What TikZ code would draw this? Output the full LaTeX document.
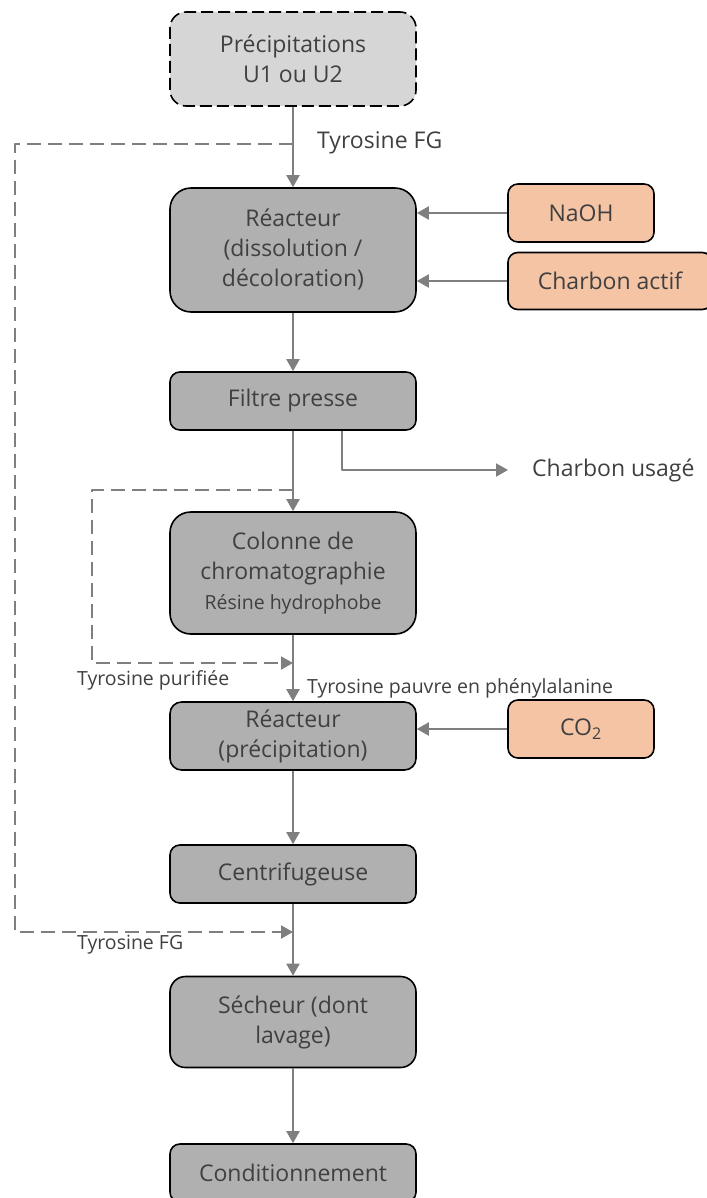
\documentclass[tikz,border=0pt]{standalone}
\usepackage{fontspec}
\setmainfont{Open Sans}
\usetikzlibrary{arrows.meta}
\definecolor{boxgray}{HTML}{B0B0B0}
\definecolor{topgray}{HTML}{D6D6D6}
\definecolor{feedorange}{HTML}{F5C4A5}
\definecolor{linegray}{HTML}{7F7F7F}
\definecolor{textgray}{HTML}{404040}
\begin{document}
\begin{tikzpicture}[x=1pt,y=-1pt,line join=round,>={Triangle[width=13pt,length=12pt]},font=\fontsize{23}{30}\selectfont]
\tikzset{proc/.style={draw=black,line width=1.6pt,fill=boxgray,text=textgray,align=center,minimum width=246pt,minimum height=#1pt,rounded corners=0.17*#1pt},
feed/.style={proc=#1,fill=feedorange,minimum width=146pt},
flow/.style={draw=linegray,line width=2pt,->},
recycle/.style={flow,dash pattern=on 14pt off 7pt},
lbl/.style={text=textgray,inner sep=0pt,anchor=west},
small/.style={font=\fontsize{19.5}{24}\selectfont}}
\useasboundingbox (0,0) rectangle (706,1198);
% main line
\node[proc=94,fill=topgray,dash pattern=on 12pt off 5pt] (src) at (293,59) {Précipitations\\U1 ou U2};
\node[proc=124] (r1) at (293,250) {Réacteur\\(dissolution /\\décoloration)};
\node[proc=58] (filt) at (293,401) {Filtre presse};
\node[proc=122] (col) at (293,573) {Colonne de\\chromatographie\\{\fontsize{19.5}{24}\selectfont Résine hydrophobe}};
\node[proc=68] (r2) at (293,736) {Réacteur\\(précipitation)};
\node[proc=58] (cent) at (293,874) {Centrifugeuse};
\node[proc=91] (sech) at (293,1022) {Sécheur (dont\\lavage)};
\node[proc=58] (cond) at (293,1173) {Conditionnement};
% reagents
\node[feed=58] (naoh) at (581,213) {NaOH};
\node[feed=57,minimum width=204pt] (charbon) at (610,281) {Charbon actif};
\node[feed=58] (co2) at (581,729) {CO\textsubscript{2}};
\node[lbl,inner xsep=24pt] (usage) at (508,470) {Charbon usagé};
% labels
\node[lbl] (tfg) at (317,143) {Tyrosine FG};
\node[lbl,small] (pur) at (77,680) {Tyrosine purifiée};
\node[lbl,small] (pauvre) at (307,688) {Tyrosine pauvre en phénylalanine};
\node[lbl,small] (tfg2) at (77,945) {Tyrosine FG};
\coordinate (fgIn) at (293,144);
\coordinate (fgOut) at (293,932);
\coordinate (purIn) at (293,490);
\coordinate (purOut) at (293,663);
\draw[flow] (src) -- (r1);
\draw[flow] (r1) -- (filt);
\draw[flow] (filt) -- (col);
\draw[flow] (col) -- (r2);
\draw[flow] (r2) -- (cent);
\draw[flow] (cent) -- (sech);
\draw[flow] (sech) -- (cond);
\draw[flow] (naoh.west) -- (naoh.west-|r1.east);
\draw[flow] (charbon.west) -- (charbon.west-|r1.east);
\draw[flow] (co2.west) -- (co2.west-|r2.east);
\draw[flow] ([xshift=49pt]filt.south) |- (usage.west);
\draw[recycle] (fgIn) -- ++(-278,0) |- (fgOut);
\draw[recycle] (purIn) -- ++(-201,0) |- (purOut);
\end{tikzpicture}
\end{document}
